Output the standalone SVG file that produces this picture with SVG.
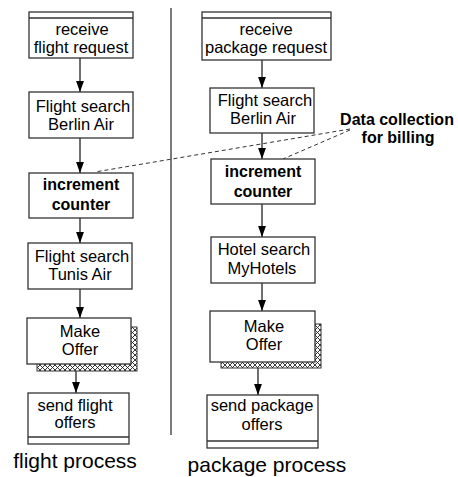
<svg xmlns="http://www.w3.org/2000/svg" width="458" height="477" viewBox="0 0 458 477">
  <style>
    .box { fill: #ffffff; stroke: #333333; stroke-width: 1.3; }
    .sep { stroke: #333333; stroke-width: 1.3; }
    .t { font-family: "Liberation Sans", Arial, sans-serif; font-size: 16.5px; fill: #000000; text-anchor: middle; }
    .b { font-weight: bold; font-size: 16px; }
    .cap { font-family: "Liberation Sans", Arial, sans-serif; font-size: 21px; fill: #000000; text-anchor: middle; }
    .flow { stroke: #404040; stroke-width: 1.5; fill: none; marker-end: url(#arrow); }
    .note { stroke: #333333; stroke-width: 1; stroke-dasharray: 4 3; fill: none; }
    .shadow { fill: url(#hatch); stroke: #333333; stroke-width: 1; }
  </style>
  <defs>
    <marker id="arrow" markerUnits="userSpaceOnUse" markerWidth="11" markerHeight="15" refX="14" refY="5" viewBox="0 0 14 10" orient="auto">
      <path d="M0,0 L14,5 L0,10 Z" fill="#000000"/>
    </marker>
    <pattern id="hatch" patternUnits="userSpaceOnUse" width="5" height="5">
      <rect width="5" height="5" fill="#ffffff"/>
      <path d="M0,0 L5,5 M5,0 L0,5" stroke="#222222" stroke-width="0.9"/>
    </pattern>
  </defs>

  <!-- lane divider -->
  <line x1="171" y1="8" x2="171" y2="435" stroke="#333333" stroke-width="1.3"/>

  <!-- connectors -->
  <g id="connectors">
    <line class="flow" x1="80" y1="58" x2="80" y2="92"/>
    <line class="flow" x1="80" y1="138" x2="80" y2="173"/>
    <line class="flow" x1="80" y1="218" x2="80" y2="243"/>
    <line class="flow" x1="80" y1="289" x2="80" y2="318"/>
    <line class="flow" x1="76" y1="364" x2="76" y2="393"/>

    <line class="flow" x1="262" y1="60" x2="262" y2="88"/>
    <line class="flow" x1="262" y1="133" x2="262" y2="159"/>
    <line class="flow" x1="262" y1="204" x2="262" y2="237"/>
    <line class="flow" x1="262" y1="283" x2="262" y2="311"/>
    <line class="flow" x1="258" y1="362" x2="258" y2="395"/>

    <line class="note" x1="350" y1="129" x2="95" y2="172"/>
    <line class="note" x1="350" y1="130" x2="283" y2="159"/>
  </g>

  <!-- flight process -->
  <g id="f-receive">
    <rect class="box" x="29" y="12" width="104" height="46"/>
    <line class="sep" x1="29" y1="18" x2="133" y2="18"/>
    <text class="t" x="82" y="35">receive</text>
    <text class="t" x="81" y="53">flight request</text>
  </g>
  <g id="f-search-berlin">
    <rect class="box" x="29" y="92" width="104" height="46"/>
    <text class="t" x="83" y="112">Flight search</text>
    <text class="t" x="81" y="130">Berlin Air</text>
  </g>
  <g id="f-counter">
    <rect class="box" x="29" y="173" width="104" height="45"/>
    <text class="t b" x="81" y="190">increment</text>
    <text class="t b" x="81" y="210">counter</text>
  </g>
  <g id="f-search-tunis">
    <rect class="box" x="28" y="243" width="104" height="46"/>
    <text class="t" x="82" y="262">Flight search</text>
    <text class="t" x="80" y="280">Tunis Air</text>
  </g>
  <g id="f-offer">
    <rect class="shadow" x="37" y="327" width="100" height="44"/>
    <rect class="box" x="27" y="318" width="104" height="46"/>
    <text class="t" x="80" y="337">Make</text>
    <text class="t" x="80" y="355">Offer</text>
  </g>
  <g id="f-send">
    <rect class="box" x="28" y="393" width="101" height="51"/>
    <line class="sep" x1="28" y1="437" x2="129" y2="437"/>
    <text class="t" x="75" y="411">send flight</text>
    <text class="t" x="75" y="428">offers</text>
  </g>

  <!-- package process -->
  <g id="p-receive">
    <rect class="box" x="202" y="12" width="129" height="48"/>
    <line class="sep" x1="202" y1="18" x2="331" y2="18"/>
    <text class="t" x="266" y="35">receive</text>
    <text class="t" x="266" y="53">package request</text>
  </g>
  <g id="p-search-berlin">
    <rect class="box" x="210" y="88" width="104" height="45"/>
    <text class="t" x="265" y="106">Flight search</text>
    <text class="t" x="263" y="124">Berlin Air</text>
  </g>
  <g id="p-counter">
    <rect class="box" x="211" y="159" width="104" height="45"/>
    <text class="t b" x="263" y="177">increment</text>
    <text class="t b" x="263" y="197">counter</text>
  </g>
  <g id="p-hotel">
    <rect class="box" x="211" y="237" width="104" height="46"/>
    <text class="t" x="264" y="255">Hotel search</text>
    <text class="t" x="262" y="274">MyHotels</text>
  </g>
  <g id="p-offer">
    <rect class="shadow" x="221" y="324" width="100" height="44"/>
    <rect class="box" x="210" y="311" width="105" height="51"/>
    <text class="t" x="264" y="332">Make</text>
    <text class="t" x="264" y="350">Offer</text>
  </g>
  <g id="p-send">
    <rect class="box" x="207" y="395" width="111" height="53"/>
    <line class="sep" x1="207" y1="441" x2="318" y2="441"/>
    <text class="t" x="262" y="411">send package</text>
    <text class="t" x="262" y="430">offers</text>
  </g>

  <!-- annotation -->
  <g id="billing-note">
    <text class="t b" x="397" y="125">Data collection</text>
    <text class="t b" x="398" y="143">for billing</text>
  </g>

  <!-- lane captions -->
  <text class="cap" x="75" y="468">flight process</text>
  <text class="cap" x="267" y="472">package process</text>
</svg>
